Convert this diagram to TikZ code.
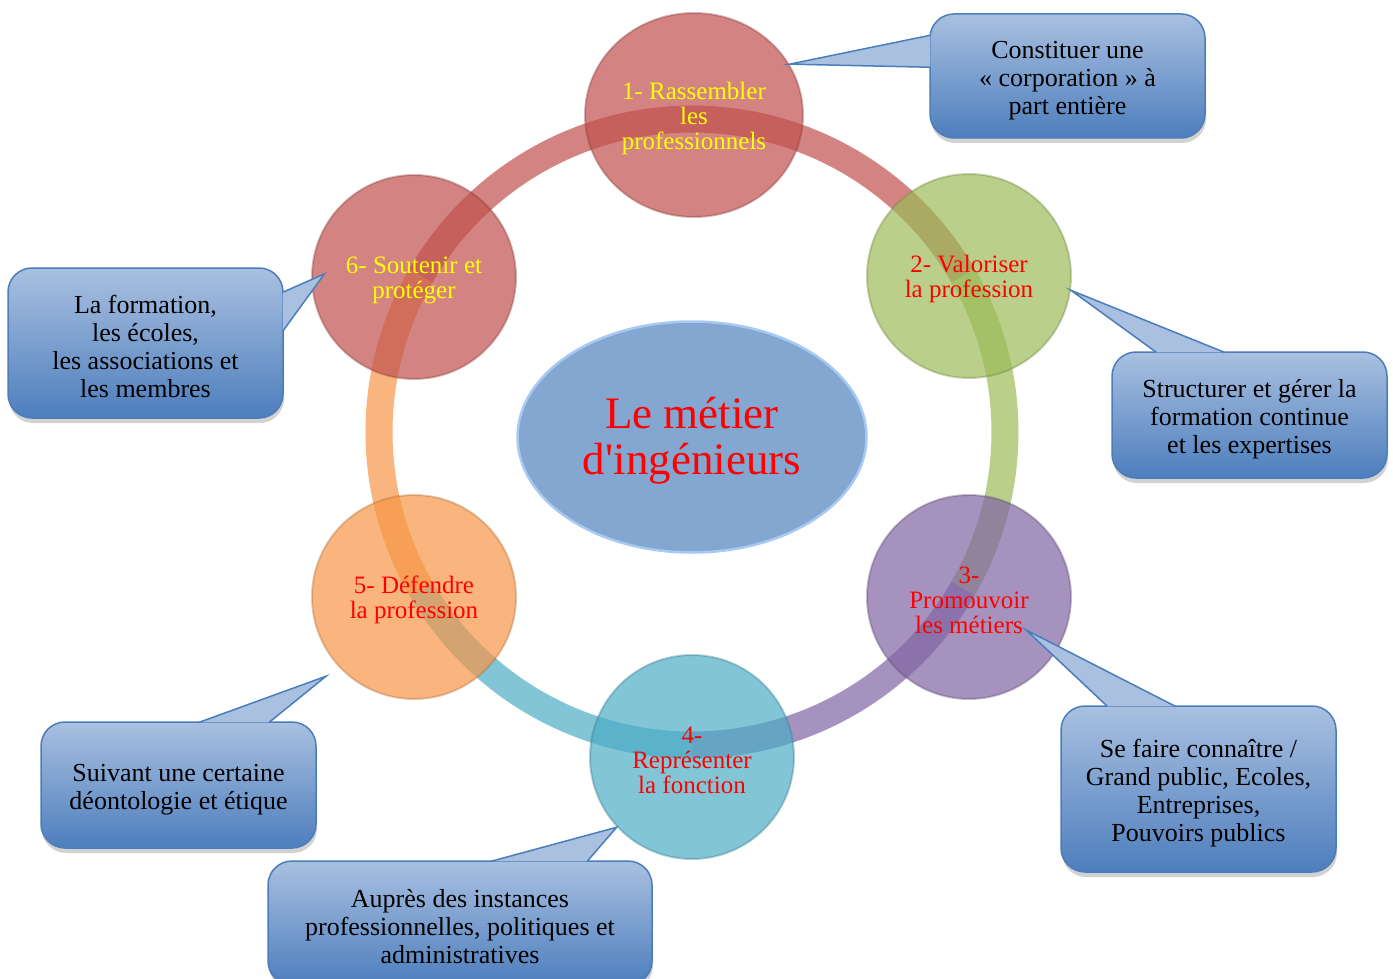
\documentclass[tikz,border=0pt]{standalone}
\usepackage{fontspec}
\setmainfont{Liberation Serif}
\usetikzlibrary{calc,shapes.geometric,shadows}
\definecolor{redF}{HTML}{C0504D}
\definecolor{greenF}{HTML}{9BBB59}
\definecolor{purpleF}{HTML}{8064A2}
\definecolor{aquaF}{HTML}{4BACC6}
\definecolor{orangeF}{HTML}{F79646}
\definecolor{hubF}{HTML}{4F81BD}
\definecolor{hubD}{HTML}{A8C9F2}
\definecolor{noteT}{HTML}{A9C0E0}
\definecolor{noteB}{HTML}{4D7EBD}
\definecolor{noteD}{HTML}{4A7DBA}
\definecolor{yelT}{HTML}{FFFF00}
\definecolor{redT}{HTML}{FF0000}
\tikzset{
  disc/.style={circle, minimum size=204pt, inner sep=0pt, align=center, fill=#1, draw=#1!70!black,
               fill opacity=0.7, draw opacity=0.35, text opacity=1, line width=2pt,
               font=\fontsize{25}{25}\selectfont, text=redT},
  band/.style={draw=#1, line width=27pt, draw opacity=0.7},
  hub/.style={ellipse, minimum width=349pt, minimum height=231pt, fill=hubF, fill opacity=0.7, text opacity=1,
              draw=hubD, line width=2.5pt, text=redT, align=center, font=\fontsize{45}{46}\selectfont},
  note/.style={rounded corners=24pt, draw=noteD, line width=1.5pt, top color=noteT, bottom color=noteB,
               minimum width=275pt, minimum height=126pt, align=center, font=\fontsize{26}{28}\selectfont,
               drop shadow={shadow xshift=1pt, shadow yshift=-5pt, fill=black!35, opacity=0.5}},
}
% taller first line, so the text sits a little lower in its shape
\newcommand\lift[1][26pt]{\rule{0pt}{#1}}
\newcommand\beakto[3]{\fill[noteT] (#1) -- (#2) -- (#3) -- cycle;
  \draw[noteD, line width=1.5pt] (#1) -- (#2) -- (#3);}

\begin{document}
\begin{tikzpicture}[x=1pt, y=-1pt]
\useasboundingbox (0,0) rectangle (1393,979);
\clip (0,0) rectangle (1393,979);
\coordinate (ring) at (692,432);
% ring, one segment per step
\foreach \c [count=\k] in {redF,greenF,purpleF,aquaF,orangeF,redF}
  \draw[band=\c] ($(ring)+({60*\k-150}:313)$) arc[start angle={60*\k-150}, delta angle=60, radius=313];
\node[hub] (metier) at (692,437) {\lift[39pt]Le métier\\d\textquotesingle ingénieurs};
% the six steps
\node[disc=redF, text=yelT, ellipse, minimum width=218pt] (rassembler) at (694,115) {\lift[24pt]1- Rassembler\\les\\professionnels};
\node[disc=greenF]          (valoriser)   at (969,276) {\lift[24pt]2- Valoriser\\la profession};
\node[disc=purpleF]         (promouvoir)  at (969,597) {\lift[24pt]3-\\Promouvoir\\les métiers};
\node[disc=aquaF]           (representer) at (692,757) {\lift[24pt]4-\\Représenter\\la fonction};
\node[disc=orangeF]         (defendre)    at (414,597) {\lift[24pt]5- Défendre\\la profession};
\node[disc=redF, text=yelT] (soutenir)    at (414,277) {\lift[24pt]6- Soutenir et\\protéger};
% callouts
\node[note, minimum height=124pt] (corporation) at (1067.5,76) {\lift Constituer une\\« corporation » à\\part entière};
\beakto{$(corporation.north west)+(1,22)$}{rassembler.28}{$(corporation.north west)+(1,54)$}
\node[note, minimum height=150pt] (formation) at (145.5,343) {\lift La formation,\\les écoles,\\les associations et\\les membres};
\beakto{$(formation.north east)+(-1,25)$}{$(soutenir.center)!0.87!(soutenir.178)$}{$(formation.north east)+(-1,64)$}
\node[note] (continue) at (1249.5,415) {\lift Structurer et gérer la\\formation continue\\et les expertises};
\beakto{$(continue.north west)+(45,1)$}{valoriser.-8}{$(continue.north west)+(113,1)$}
\node[note, minimum height=166pt] (connaitre) at (1198.5,789) {\lift Se faire connaître /\\Grand public, Ecoles,\\Entreprises,\\Pouvoirs publics};
\beakto{$(connaitre.north west)+(47,1)$}{$(promouvoir.center)!0.64!(promouvoir.-30)$}{$(connaitre.north west)+(115,1)$}
\node[note] (deontologie) at (178.5,785) {\lift Suivant une certaine\\déontologie et étique};
\beakto{$(deontologie.north west)+(159,1)$}{$(defendre.center)!1.15!(defendre.222)$}{$(deontologie.north west)+(229,1)$}
\node[note, minimum width=384pt, minimum height=124pt] (instances) at (460,923) {\lift Auprès des instances\\professionnelles, politiques et\\administratives};
\beakto{$(instances.north west)+(224,1)$}{representer.223}{$(instances.north west)+(320,1)$}
\end{tikzpicture}
\end{document}
